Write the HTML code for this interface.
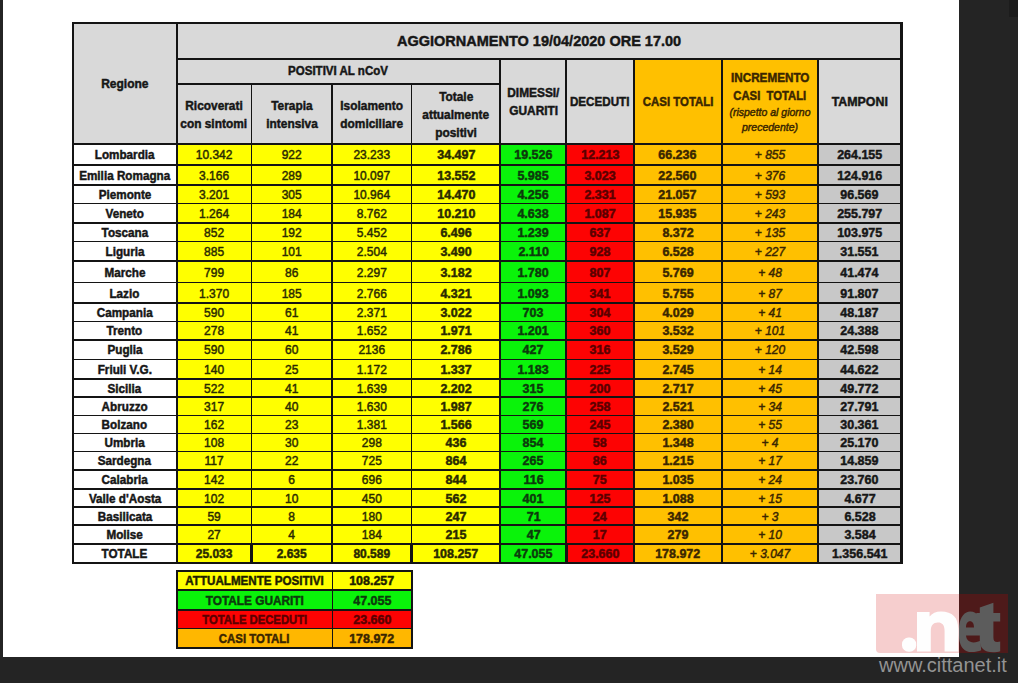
<!DOCTYPE html>
<html><head><meta charset="utf-8"><style>
html,body{margin:0;padding:0;}
body{width:1018px;height:683px;position:relative;overflow:hidden;background:#242424;font-family:"Liberation Sans",sans-serif;}
body div{position:absolute;}
.t{display:flex;align-items:center;justify-content:center;white-space:nowrap;}
.t span{display:inline-block;white-space:nowrap;transform-origin:center center;-webkit-text-stroke:0.45px currentColor;}
.wm{left:899px;top:585px;font-size:76px;font-weight:bold;letter-spacing:-6px;line-height:80px;white-space:nowrap;}
.www{left:879px;top:653px;font-size:20px;color:#939393;line-height:24px;white-space:nowrap;}
</style></head><body>
<div style="left:0.00px;top:0.00px;width:1018.00px;height:683.00px;background:#242424;"></div>
<div style="left:3.00px;top:0.00px;width:956.00px;height:657.00px;background:#ffffff;"></div>
<div style="left:1009.00px;top:0.00px;width:9.00px;height:17.00px;background:#1c1c1c;"></div>
<div style="left:72.80px;top:22.80px;width:828.50px;height:121.40px;background:#d9d9d9;"></div>
<div style="left:633.70px;top:59.00px;width:184.60px;height:85.20px;background:#ffc000;"></div>
<div style="left:72.80px;top:144.20px;width:104.00px;height:20.80px;background:#ffffff;"></div>
<div style="left:176.80px;top:144.20px;width:74.60px;height:20.80px;background:#ffff00;"></div>
<div style="left:251.40px;top:144.20px;width:80.60px;height:20.80px;background:#ffff00;"></div>
<div style="left:332.00px;top:144.20px;width:79.60px;height:20.80px;background:#ffff00;"></div>
<div style="left:411.60px;top:144.20px;width:88.60px;height:20.80px;background:#ffff00;"></div>
<div style="left:500.20px;top:144.20px;width:66.20px;height:20.80px;background:#0af30a;"></div>
<div style="left:566.40px;top:144.20px;width:67.30px;height:20.80px;background:#fd0303;"></div>
<div style="left:633.70px;top:144.20px;width:88.00px;height:20.80px;background:#ffc000;"></div>
<div style="left:721.70px;top:144.20px;width:96.60px;height:20.80px;background:#ffc000;"></div>
<div style="left:818.30px;top:144.20px;width:83.00px;height:20.80px;background:#c8c8c8;"></div>
<div style="left:72.80px;top:165.00px;width:104.00px;height:20.00px;background:#ffffff;"></div>
<div style="left:176.80px;top:165.00px;width:74.60px;height:20.00px;background:#ffff00;"></div>
<div style="left:251.40px;top:165.00px;width:80.60px;height:20.00px;background:#ffff00;"></div>
<div style="left:332.00px;top:165.00px;width:79.60px;height:20.00px;background:#ffff00;"></div>
<div style="left:411.60px;top:165.00px;width:88.60px;height:20.00px;background:#ffff00;"></div>
<div style="left:500.20px;top:165.00px;width:66.20px;height:20.00px;background:#0af30a;"></div>
<div style="left:566.40px;top:165.00px;width:67.30px;height:20.00px;background:#fd0303;"></div>
<div style="left:633.70px;top:165.00px;width:88.00px;height:20.00px;background:#ffc000;"></div>
<div style="left:721.70px;top:165.00px;width:96.60px;height:20.00px;background:#ffc000;"></div>
<div style="left:818.30px;top:165.00px;width:83.00px;height:20.00px;background:#c8c8c8;"></div>
<div style="left:72.80px;top:185.00px;width:104.00px;height:18.60px;background:#ffffff;"></div>
<div style="left:176.80px;top:185.00px;width:74.60px;height:18.60px;background:#ffff00;"></div>
<div style="left:251.40px;top:185.00px;width:80.60px;height:18.60px;background:#ffff00;"></div>
<div style="left:332.00px;top:185.00px;width:79.60px;height:18.60px;background:#ffff00;"></div>
<div style="left:411.60px;top:185.00px;width:88.60px;height:18.60px;background:#ffff00;"></div>
<div style="left:500.20px;top:185.00px;width:66.20px;height:18.60px;background:#0af30a;"></div>
<div style="left:566.40px;top:185.00px;width:67.30px;height:18.60px;background:#fd0303;"></div>
<div style="left:633.70px;top:185.00px;width:88.00px;height:18.60px;background:#ffc000;"></div>
<div style="left:721.70px;top:185.00px;width:96.60px;height:18.60px;background:#ffc000;"></div>
<div style="left:818.30px;top:185.00px;width:83.00px;height:18.60px;background:#c8c8c8;"></div>
<div style="left:72.80px;top:203.60px;width:104.00px;height:19.40px;background:#ffffff;"></div>
<div style="left:176.80px;top:203.60px;width:74.60px;height:19.40px;background:#ffff00;"></div>
<div style="left:251.40px;top:203.60px;width:80.60px;height:19.40px;background:#ffff00;"></div>
<div style="left:332.00px;top:203.60px;width:79.60px;height:19.40px;background:#ffff00;"></div>
<div style="left:411.60px;top:203.60px;width:88.60px;height:19.40px;background:#ffff00;"></div>
<div style="left:500.20px;top:203.60px;width:66.20px;height:19.40px;background:#0af30a;"></div>
<div style="left:566.40px;top:203.60px;width:67.30px;height:19.40px;background:#fd0303;"></div>
<div style="left:633.70px;top:203.60px;width:88.00px;height:19.40px;background:#ffc000;"></div>
<div style="left:721.70px;top:203.60px;width:96.60px;height:19.40px;background:#ffc000;"></div>
<div style="left:818.30px;top:203.60px;width:83.00px;height:19.40px;background:#c8c8c8;"></div>
<div style="left:72.80px;top:223.00px;width:104.00px;height:18.30px;background:#ffffff;"></div>
<div style="left:176.80px;top:223.00px;width:74.60px;height:18.30px;background:#ffff00;"></div>
<div style="left:251.40px;top:223.00px;width:80.60px;height:18.30px;background:#ffff00;"></div>
<div style="left:332.00px;top:223.00px;width:79.60px;height:18.30px;background:#ffff00;"></div>
<div style="left:411.60px;top:223.00px;width:88.60px;height:18.30px;background:#ffff00;"></div>
<div style="left:500.20px;top:223.00px;width:66.20px;height:18.30px;background:#0af30a;"></div>
<div style="left:566.40px;top:223.00px;width:67.30px;height:18.30px;background:#fd0303;"></div>
<div style="left:633.70px;top:223.00px;width:88.00px;height:18.30px;background:#ffc000;"></div>
<div style="left:721.70px;top:223.00px;width:96.60px;height:18.30px;background:#ffc000;"></div>
<div style="left:818.30px;top:223.00px;width:83.00px;height:18.30px;background:#c8c8c8;"></div>
<div style="left:72.80px;top:241.30px;width:104.00px;height:19.90px;background:#ffffff;"></div>
<div style="left:176.80px;top:241.30px;width:74.60px;height:19.90px;background:#ffff00;"></div>
<div style="left:251.40px;top:241.30px;width:80.60px;height:19.90px;background:#ffff00;"></div>
<div style="left:332.00px;top:241.30px;width:79.60px;height:19.90px;background:#ffff00;"></div>
<div style="left:411.60px;top:241.30px;width:88.60px;height:19.90px;background:#ffff00;"></div>
<div style="left:500.20px;top:241.30px;width:66.20px;height:19.90px;background:#0af30a;"></div>
<div style="left:566.40px;top:241.30px;width:67.30px;height:19.90px;background:#fd0303;"></div>
<div style="left:633.70px;top:241.30px;width:88.00px;height:19.90px;background:#ffc000;"></div>
<div style="left:721.70px;top:241.30px;width:96.60px;height:19.90px;background:#ffc000;"></div>
<div style="left:818.30px;top:241.30px;width:83.00px;height:19.90px;background:#c8c8c8;"></div>
<div style="left:72.80px;top:261.20px;width:104.00px;height:21.40px;background:#ffffff;"></div>
<div style="left:176.80px;top:261.20px;width:74.60px;height:21.40px;background:#ffff00;"></div>
<div style="left:251.40px;top:261.20px;width:80.60px;height:21.40px;background:#ffff00;"></div>
<div style="left:332.00px;top:261.20px;width:79.60px;height:21.40px;background:#ffff00;"></div>
<div style="left:411.60px;top:261.20px;width:88.60px;height:21.40px;background:#ffff00;"></div>
<div style="left:500.20px;top:261.20px;width:66.20px;height:21.40px;background:#0af30a;"></div>
<div style="left:566.40px;top:261.20px;width:67.30px;height:21.40px;background:#fd0303;"></div>
<div style="left:633.70px;top:261.20px;width:88.00px;height:21.40px;background:#ffc000;"></div>
<div style="left:721.70px;top:261.20px;width:96.60px;height:21.40px;background:#ffc000;"></div>
<div style="left:818.30px;top:261.20px;width:83.00px;height:21.40px;background:#c8c8c8;"></div>
<div style="left:72.80px;top:282.60px;width:104.00px;height:20.50px;background:#ffffff;"></div>
<div style="left:176.80px;top:282.60px;width:74.60px;height:20.50px;background:#ffff00;"></div>
<div style="left:251.40px;top:282.60px;width:80.60px;height:20.50px;background:#ffff00;"></div>
<div style="left:332.00px;top:282.60px;width:79.60px;height:20.50px;background:#ffff00;"></div>
<div style="left:411.60px;top:282.60px;width:88.60px;height:20.50px;background:#ffff00;"></div>
<div style="left:500.20px;top:282.60px;width:66.20px;height:20.50px;background:#0af30a;"></div>
<div style="left:566.40px;top:282.60px;width:67.30px;height:20.50px;background:#fd0303;"></div>
<div style="left:633.70px;top:282.60px;width:88.00px;height:20.50px;background:#ffc000;"></div>
<div style="left:721.70px;top:282.60px;width:96.60px;height:20.50px;background:#ffc000;"></div>
<div style="left:818.30px;top:282.60px;width:83.00px;height:20.50px;background:#c8c8c8;"></div>
<div style="left:72.80px;top:303.10px;width:104.00px;height:18.40px;background:#ffffff;"></div>
<div style="left:176.80px;top:303.10px;width:74.60px;height:18.40px;background:#ffff00;"></div>
<div style="left:251.40px;top:303.10px;width:80.60px;height:18.40px;background:#ffff00;"></div>
<div style="left:332.00px;top:303.10px;width:79.60px;height:18.40px;background:#ffff00;"></div>
<div style="left:411.60px;top:303.10px;width:88.60px;height:18.40px;background:#ffff00;"></div>
<div style="left:500.20px;top:303.10px;width:66.20px;height:18.40px;background:#0af30a;"></div>
<div style="left:566.40px;top:303.10px;width:67.30px;height:18.40px;background:#fd0303;"></div>
<div style="left:633.70px;top:303.10px;width:88.00px;height:18.40px;background:#ffc000;"></div>
<div style="left:721.70px;top:303.10px;width:96.60px;height:18.40px;background:#ffc000;"></div>
<div style="left:818.30px;top:303.10px;width:83.00px;height:18.40px;background:#c8c8c8;"></div>
<div style="left:72.80px;top:321.50px;width:104.00px;height:18.30px;background:#ffffff;"></div>
<div style="left:176.80px;top:321.50px;width:74.60px;height:18.30px;background:#ffff00;"></div>
<div style="left:251.40px;top:321.50px;width:80.60px;height:18.30px;background:#ffff00;"></div>
<div style="left:332.00px;top:321.50px;width:79.60px;height:18.30px;background:#ffff00;"></div>
<div style="left:411.60px;top:321.50px;width:88.60px;height:18.30px;background:#ffff00;"></div>
<div style="left:500.20px;top:321.50px;width:66.20px;height:18.30px;background:#0af30a;"></div>
<div style="left:566.40px;top:321.50px;width:67.30px;height:18.30px;background:#fd0303;"></div>
<div style="left:633.70px;top:321.50px;width:88.00px;height:18.30px;background:#ffc000;"></div>
<div style="left:721.70px;top:321.50px;width:96.60px;height:18.30px;background:#ffc000;"></div>
<div style="left:818.30px;top:321.50px;width:83.00px;height:18.30px;background:#c8c8c8;"></div>
<div style="left:72.80px;top:339.80px;width:104.00px;height:19.90px;background:#ffffff;"></div>
<div style="left:176.80px;top:339.80px;width:74.60px;height:19.90px;background:#ffff00;"></div>
<div style="left:251.40px;top:339.80px;width:80.60px;height:19.90px;background:#ffff00;"></div>
<div style="left:332.00px;top:339.80px;width:79.60px;height:19.90px;background:#ffff00;"></div>
<div style="left:411.60px;top:339.80px;width:88.60px;height:19.90px;background:#ffff00;"></div>
<div style="left:500.20px;top:339.80px;width:66.20px;height:19.90px;background:#0af30a;"></div>
<div style="left:566.40px;top:339.80px;width:67.30px;height:19.90px;background:#fd0303;"></div>
<div style="left:633.70px;top:339.80px;width:88.00px;height:19.90px;background:#ffc000;"></div>
<div style="left:721.70px;top:339.80px;width:96.60px;height:19.90px;background:#ffc000;"></div>
<div style="left:818.30px;top:339.80px;width:83.00px;height:19.90px;background:#c8c8c8;"></div>
<div style="left:72.80px;top:359.70px;width:104.00px;height:19.10px;background:#ffffff;"></div>
<div style="left:176.80px;top:359.70px;width:74.60px;height:19.10px;background:#ffff00;"></div>
<div style="left:251.40px;top:359.70px;width:80.60px;height:19.10px;background:#ffff00;"></div>
<div style="left:332.00px;top:359.70px;width:79.60px;height:19.10px;background:#ffff00;"></div>
<div style="left:411.60px;top:359.70px;width:88.60px;height:19.10px;background:#ffff00;"></div>
<div style="left:500.20px;top:359.70px;width:66.20px;height:19.10px;background:#0af30a;"></div>
<div style="left:566.40px;top:359.70px;width:67.30px;height:19.10px;background:#fd0303;"></div>
<div style="left:633.70px;top:359.70px;width:88.00px;height:19.10px;background:#ffc000;"></div>
<div style="left:721.70px;top:359.70px;width:96.60px;height:19.10px;background:#ffc000;"></div>
<div style="left:818.30px;top:359.70px;width:83.00px;height:19.10px;background:#c8c8c8;"></div>
<div style="left:72.80px;top:378.80px;width:104.00px;height:18.30px;background:#ffffff;"></div>
<div style="left:176.80px;top:378.80px;width:74.60px;height:18.30px;background:#ffff00;"></div>
<div style="left:251.40px;top:378.80px;width:80.60px;height:18.30px;background:#ffff00;"></div>
<div style="left:332.00px;top:378.80px;width:79.60px;height:18.30px;background:#ffff00;"></div>
<div style="left:411.60px;top:378.80px;width:88.60px;height:18.30px;background:#ffff00;"></div>
<div style="left:500.20px;top:378.80px;width:66.20px;height:18.30px;background:#0af30a;"></div>
<div style="left:566.40px;top:378.80px;width:67.30px;height:18.30px;background:#fd0303;"></div>
<div style="left:633.70px;top:378.80px;width:88.00px;height:18.30px;background:#ffc000;"></div>
<div style="left:721.70px;top:378.80px;width:96.60px;height:18.30px;background:#ffc000;"></div>
<div style="left:818.30px;top:378.80px;width:83.00px;height:18.30px;background:#c8c8c8;"></div>
<div style="left:72.80px;top:397.10px;width:104.00px;height:18.40px;background:#ffffff;"></div>
<div style="left:176.80px;top:397.10px;width:74.60px;height:18.40px;background:#ffff00;"></div>
<div style="left:251.40px;top:397.10px;width:80.60px;height:18.40px;background:#ffff00;"></div>
<div style="left:332.00px;top:397.10px;width:79.60px;height:18.40px;background:#ffff00;"></div>
<div style="left:411.60px;top:397.10px;width:88.60px;height:18.40px;background:#ffff00;"></div>
<div style="left:500.20px;top:397.10px;width:66.20px;height:18.40px;background:#0af30a;"></div>
<div style="left:566.40px;top:397.10px;width:67.30px;height:18.40px;background:#fd0303;"></div>
<div style="left:633.70px;top:397.10px;width:88.00px;height:18.40px;background:#ffc000;"></div>
<div style="left:721.70px;top:397.10px;width:96.60px;height:18.40px;background:#ffc000;"></div>
<div style="left:818.30px;top:397.10px;width:83.00px;height:18.40px;background:#c8c8c8;"></div>
<div style="left:72.80px;top:415.50px;width:104.00px;height:18.00px;background:#ffffff;"></div>
<div style="left:176.80px;top:415.50px;width:74.60px;height:18.00px;background:#ffff00;"></div>
<div style="left:251.40px;top:415.50px;width:80.60px;height:18.00px;background:#ffff00;"></div>
<div style="left:332.00px;top:415.50px;width:79.60px;height:18.00px;background:#ffff00;"></div>
<div style="left:411.60px;top:415.50px;width:88.60px;height:18.00px;background:#ffff00;"></div>
<div style="left:500.20px;top:415.50px;width:66.20px;height:18.00px;background:#0af30a;"></div>
<div style="left:566.40px;top:415.50px;width:67.30px;height:18.00px;background:#fd0303;"></div>
<div style="left:633.70px;top:415.50px;width:88.00px;height:18.00px;background:#ffc000;"></div>
<div style="left:721.70px;top:415.50px;width:96.60px;height:18.00px;background:#ffc000;"></div>
<div style="left:818.30px;top:415.50px;width:83.00px;height:18.00px;background:#c8c8c8;"></div>
<div style="left:72.80px;top:433.50px;width:104.00px;height:17.90px;background:#ffffff;"></div>
<div style="left:176.80px;top:433.50px;width:74.60px;height:17.90px;background:#ffff00;"></div>
<div style="left:251.40px;top:433.50px;width:80.60px;height:17.90px;background:#ffff00;"></div>
<div style="left:332.00px;top:433.50px;width:79.60px;height:17.90px;background:#ffff00;"></div>
<div style="left:411.60px;top:433.50px;width:88.60px;height:17.90px;background:#ffff00;"></div>
<div style="left:500.20px;top:433.50px;width:66.20px;height:17.90px;background:#0af30a;"></div>
<div style="left:566.40px;top:433.50px;width:67.30px;height:17.90px;background:#fd0303;"></div>
<div style="left:633.70px;top:433.50px;width:88.00px;height:17.90px;background:#ffc000;"></div>
<div style="left:721.70px;top:433.50px;width:96.60px;height:17.90px;background:#ffc000;"></div>
<div style="left:818.30px;top:433.50px;width:83.00px;height:17.90px;background:#c8c8c8;"></div>
<div style="left:72.80px;top:451.40px;width:104.00px;height:18.70px;background:#ffffff;"></div>
<div style="left:176.80px;top:451.40px;width:74.60px;height:18.70px;background:#ffff00;"></div>
<div style="left:251.40px;top:451.40px;width:80.60px;height:18.70px;background:#ffff00;"></div>
<div style="left:332.00px;top:451.40px;width:79.60px;height:18.70px;background:#ffff00;"></div>
<div style="left:411.60px;top:451.40px;width:88.60px;height:18.70px;background:#ffff00;"></div>
<div style="left:500.20px;top:451.40px;width:66.20px;height:18.70px;background:#0af30a;"></div>
<div style="left:566.40px;top:451.40px;width:67.30px;height:18.70px;background:#fd0303;"></div>
<div style="left:633.70px;top:451.40px;width:88.00px;height:18.70px;background:#ffc000;"></div>
<div style="left:721.70px;top:451.40px;width:96.60px;height:18.70px;background:#ffc000;"></div>
<div style="left:818.30px;top:451.40px;width:83.00px;height:18.70px;background:#c8c8c8;"></div>
<div style="left:72.80px;top:470.10px;width:104.00px;height:18.70px;background:#ffffff;"></div>
<div style="left:176.80px;top:470.10px;width:74.60px;height:18.70px;background:#ffff00;"></div>
<div style="left:251.40px;top:470.10px;width:80.60px;height:18.70px;background:#ffff00;"></div>
<div style="left:332.00px;top:470.10px;width:79.60px;height:18.70px;background:#ffff00;"></div>
<div style="left:411.60px;top:470.10px;width:88.60px;height:18.70px;background:#ffff00;"></div>
<div style="left:500.20px;top:470.10px;width:66.20px;height:18.70px;background:#0af30a;"></div>
<div style="left:566.40px;top:470.10px;width:67.30px;height:18.70px;background:#fd0303;"></div>
<div style="left:633.70px;top:470.10px;width:88.00px;height:18.70px;background:#ffc000;"></div>
<div style="left:721.70px;top:470.10px;width:96.60px;height:18.70px;background:#ffc000;"></div>
<div style="left:818.30px;top:470.10px;width:83.00px;height:18.70px;background:#c8c8c8;"></div>
<div style="left:72.80px;top:488.80px;width:104.00px;height:18.20px;background:#ffffff;"></div>
<div style="left:176.80px;top:488.80px;width:74.60px;height:18.20px;background:#ffff00;"></div>
<div style="left:251.40px;top:488.80px;width:80.60px;height:18.20px;background:#ffff00;"></div>
<div style="left:332.00px;top:488.80px;width:79.60px;height:18.20px;background:#ffff00;"></div>
<div style="left:411.60px;top:488.80px;width:88.60px;height:18.20px;background:#ffff00;"></div>
<div style="left:500.20px;top:488.80px;width:66.20px;height:18.20px;background:#0af30a;"></div>
<div style="left:566.40px;top:488.80px;width:67.30px;height:18.20px;background:#fd0303;"></div>
<div style="left:633.70px;top:488.80px;width:88.00px;height:18.20px;background:#ffc000;"></div>
<div style="left:721.70px;top:488.80px;width:96.60px;height:18.20px;background:#ffc000;"></div>
<div style="left:818.30px;top:488.80px;width:83.00px;height:18.20px;background:#c8c8c8;"></div>
<div style="left:72.80px;top:507.00px;width:104.00px;height:18.10px;background:#ffffff;"></div>
<div style="left:176.80px;top:507.00px;width:74.60px;height:18.10px;background:#ffff00;"></div>
<div style="left:251.40px;top:507.00px;width:80.60px;height:18.10px;background:#ffff00;"></div>
<div style="left:332.00px;top:507.00px;width:79.60px;height:18.10px;background:#ffff00;"></div>
<div style="left:411.60px;top:507.00px;width:88.60px;height:18.10px;background:#ffff00;"></div>
<div style="left:500.20px;top:507.00px;width:66.20px;height:18.10px;background:#0af30a;"></div>
<div style="left:566.40px;top:507.00px;width:67.30px;height:18.10px;background:#fd0303;"></div>
<div style="left:633.70px;top:507.00px;width:88.00px;height:18.10px;background:#ffc000;"></div>
<div style="left:721.70px;top:507.00px;width:96.60px;height:18.10px;background:#ffc000;"></div>
<div style="left:818.30px;top:507.00px;width:83.00px;height:18.10px;background:#c8c8c8;"></div>
<div style="left:72.80px;top:525.10px;width:104.00px;height:19.10px;background:#ffffff;"></div>
<div style="left:176.80px;top:525.10px;width:74.60px;height:19.10px;background:#ffff00;"></div>
<div style="left:251.40px;top:525.10px;width:80.60px;height:19.10px;background:#ffff00;"></div>
<div style="left:332.00px;top:525.10px;width:79.60px;height:19.10px;background:#ffff00;"></div>
<div style="left:411.60px;top:525.10px;width:88.60px;height:19.10px;background:#ffff00;"></div>
<div style="left:500.20px;top:525.10px;width:66.20px;height:19.10px;background:#0af30a;"></div>
<div style="left:566.40px;top:525.10px;width:67.30px;height:19.10px;background:#fd0303;"></div>
<div style="left:633.70px;top:525.10px;width:88.00px;height:19.10px;background:#ffc000;"></div>
<div style="left:721.70px;top:525.10px;width:96.60px;height:19.10px;background:#ffc000;"></div>
<div style="left:818.30px;top:525.10px;width:83.00px;height:19.10px;background:#c8c8c8;"></div>
<div style="left:72.80px;top:544.20px;width:104.00px;height:18.60px;background:#ffffff;"></div>
<div style="left:176.80px;top:544.20px;width:74.60px;height:18.60px;background:#ffff00;"></div>
<div style="left:251.40px;top:544.20px;width:80.60px;height:18.60px;background:#ffff00;"></div>
<div style="left:332.00px;top:544.20px;width:79.60px;height:18.60px;background:#ffff00;"></div>
<div style="left:411.60px;top:544.20px;width:88.60px;height:18.60px;background:#ffff00;"></div>
<div style="left:500.20px;top:544.20px;width:66.20px;height:18.60px;background:#0af30a;"></div>
<div style="left:566.40px;top:544.20px;width:67.30px;height:18.60px;background:#fd0303;"></div>
<div style="left:633.70px;top:544.20px;width:88.00px;height:18.60px;background:#ffc000;"></div>
<div style="left:721.70px;top:544.20px;width:96.60px;height:18.60px;background:#ffc000;"></div>
<div style="left:818.30px;top:544.20px;width:83.00px;height:18.60px;background:#c8c8c8;"></div>
<div class="t" style="left:72.80px;top:23.40px;width:104.00px;height:121.40px;"><span style="font-size:12px;font-weight:bold;font-style:normal;color:#161616;transform:scaleX(1.0);">Regione</span></div>
<div class="t" style="left:176.80px;top:23.40px;width:724.50px;height:36.20px;"><span style="font-size:14.5px;font-weight:bold;font-style:normal;color:#161616;transform:scaleX(1.0);">AGGIORNAMENTO 19/04/2020 ORE 17.00</span></div>
<div class="t" style="left:176.80px;top:59.00px;width:323.40px;height:24.70px;"><span style="font-size:12px;font-weight:bold;font-style:normal;color:#161616;transform:scaleX(0.96);">POSITIVI AL nCoV</span></div>
<div class="t" style="left:176.80px;top:96.20px;width:74.60px;height:20.00px;"><span style="font-size:12px;font-weight:bold;font-style:normal;color:#161616;transform:scaleX(0.99);">Ricoverati</span></div>
<div class="t" style="left:176.80px;top:114.20px;width:74.60px;height:20.00px;"><span style="font-size:12px;font-weight:bold;font-style:normal;color:#161616;transform:scaleX(0.99);">con sintomi</span></div>
<div class="t" style="left:251.40px;top:96.20px;width:80.60px;height:20.00px;"><span style="font-size:12px;font-weight:bold;font-style:normal;color:#161616;transform:scaleX(0.99);">Terapia</span></div>
<div class="t" style="left:251.40px;top:114.20px;width:80.60px;height:20.00px;"><span style="font-size:12px;font-weight:bold;font-style:normal;color:#161616;transform:scaleX(0.99);">intensiva</span></div>
<div class="t" style="left:332.00px;top:96.20px;width:79.60px;height:20.00px;"><span style="font-size:12px;font-weight:bold;font-style:normal;color:#161616;transform:scaleX(0.99);">Isolamento</span></div>
<div class="t" style="left:332.00px;top:114.20px;width:79.60px;height:20.00px;"><span style="font-size:12px;font-weight:bold;font-style:normal;color:#161616;transform:scaleX(0.99);">domiciliare</span></div>
<div class="t" style="left:411.60px;top:87.20px;width:88.60px;height:20.00px;"><span style="font-size:12px;font-weight:bold;font-style:normal;color:#161616;transform:scaleX(0.99);">Totale</span></div>
<div class="t" style="left:411.60px;top:105.20px;width:88.60px;height:20.00px;"><span style="font-size:12px;font-weight:bold;font-style:normal;color:#161616;transform:scaleX(0.99);">attualmente</span></div>
<div class="t" style="left:411.60px;top:123.20px;width:88.60px;height:20.00px;"><span style="font-size:12px;font-weight:bold;font-style:normal;color:#161616;transform:scaleX(0.99);">positivi</span></div>
<div class="t" style="left:500.20px;top:83.00px;width:66.20px;height:20.00px;"><span style="font-size:12px;font-weight:bold;font-style:normal;color:#161616;transform:scaleX(0.99);">DIMESSI/</span></div>
<div class="t" style="left:500.20px;top:101.00px;width:66.20px;height:20.00px;"><span style="font-size:12px;font-weight:bold;font-style:normal;color:#161616;transform:scaleX(0.99);">GUARITI</span></div>
<div class="t" style="left:566.40px;top:59.00px;width:67.30px;height:85.20px;"><span style="font-size:12px;font-weight:bold;font-style:normal;color:#161616;transform:scaleX(0.97);">DECEDUTI</span></div>
<div class="t" style="left:633.70px;top:59.00px;width:88.00px;height:85.20px;"><span style="font-size:12px;font-weight:bold;font-style:normal;color:#3a2600;transform:scaleX(0.95);">CASI TOTALI</span></div>
<div class="t" style="left:721.70px;top:67.70px;width:96.60px;height:20.00px;"><span style="font-size:12px;font-weight:bold;font-style:normal;color:#3a2600;transform:scaleX(0.975);">INCREMENTO</span></div>
<div class="t" style="left:721.70px;top:86.00px;width:96.60px;height:20.00px;"><span style="font-size:12px;font-weight:bold;font-style:normal;color:#3a2600;transform:scaleX(0.94);">CASI&nbsp; TOTALI</span></div>
<div class="t" style="left:721.70px;top:102.00px;width:96.60px;height:20.00px;"><span style="font-size:10.5px;font-weight:normal;font-style:italic;color:#3a2600;transform:scaleX(1.0);">(rispetto al giorno</span></div>
<div class="t" style="left:721.70px;top:117.00px;width:96.60px;height:20.00px;"><span style="font-size:10.5px;font-weight:normal;font-style:italic;color:#3a2600;transform:scaleX(1.0);">precedente)</span></div>
<div class="t" style="left:818.30px;top:59.00px;width:83.00px;height:85.20px;"><span style="font-size:12.4px;font-weight:bold;font-style:normal;color:#161616;transform:scaleX(1.0);">TAMPONI</span></div>
<div class="t" style="left:72.80px;top:144.90px;width:104.00px;height:20.80px;"><span style="font-size:12px;font-weight:bold;font-style:normal;color:#161616;transform:scaleX(0.975);">Lombardia</span></div>
<div class="t" style="left:176.80px;top:144.90px;width:74.60px;height:20.80px;"><span style="font-size:12px;font-weight:normal;font-style:normal;color:#2a2a00;transform:scaleX(1.0);">10.342</span></div>
<div class="t" style="left:251.40px;top:144.90px;width:80.60px;height:20.80px;"><span style="font-size:12px;font-weight:normal;font-style:normal;color:#2a2a00;transform:scaleX(1.0);">922</span></div>
<div class="t" style="left:332.00px;top:144.90px;width:79.60px;height:20.80px;"><span style="font-size:12px;font-weight:normal;font-style:normal;color:#2a2a00;transform:scaleX(1.0);">23.233</span></div>
<div class="t" style="left:411.60px;top:144.90px;width:88.60px;height:20.80px;"><span style="font-size:12px;font-weight:bold;font-style:normal;color:#2a2a00;transform:scaleX(1.04);">34.497</span></div>
<div class="t" style="left:500.20px;top:144.90px;width:66.20px;height:20.80px;"><span style="font-size:12px;font-weight:bold;font-style:normal;color:#0c3a0c;transform:scaleX(1.04);">19.526</span></div>
<div class="t" style="left:566.40px;top:144.90px;width:67.30px;height:20.80px;"><span style="font-size:12px;font-weight:bold;font-style:normal;color:#5a0000;transform:scaleX(1.04);">12.213</span></div>
<div class="t" style="left:633.70px;top:144.90px;width:88.00px;height:20.80px;"><span style="font-size:12px;font-weight:bold;font-style:normal;color:#3a2600;transform:scaleX(1.04);">66.236</span></div>
<div class="t" style="left:721.70px;top:144.90px;width:96.60px;height:20.80px;"><span style="font-size:12px;font-weight:normal;font-style:italic;color:#3a2600;transform:scaleX(1.0);">+ 855</span></div>
<div class="t" style="left:818.30px;top:144.90px;width:83.00px;height:20.80px;"><span style="font-size:12px;font-weight:bold;font-style:normal;color:#161616;transform:scaleX(1.04);">264.155</span></div>
<div class="t" style="left:72.80px;top:165.70px;width:104.00px;height:20.00px;"><span style="font-size:12px;font-weight:bold;font-style:normal;color:#161616;transform:scaleX(0.975);">Emilia Romagna</span></div>
<div class="t" style="left:176.80px;top:165.70px;width:74.60px;height:20.00px;"><span style="font-size:12px;font-weight:normal;font-style:normal;color:#2a2a00;transform:scaleX(1.0);">3.166</span></div>
<div class="t" style="left:251.40px;top:165.70px;width:80.60px;height:20.00px;"><span style="font-size:12px;font-weight:normal;font-style:normal;color:#2a2a00;transform:scaleX(1.0);">289</span></div>
<div class="t" style="left:332.00px;top:165.70px;width:79.60px;height:20.00px;"><span style="font-size:12px;font-weight:normal;font-style:normal;color:#2a2a00;transform:scaleX(1.0);">10.097</span></div>
<div class="t" style="left:411.60px;top:165.70px;width:88.60px;height:20.00px;"><span style="font-size:12px;font-weight:bold;font-style:normal;color:#2a2a00;transform:scaleX(1.04);">13.552</span></div>
<div class="t" style="left:500.20px;top:165.70px;width:66.20px;height:20.00px;"><span style="font-size:12px;font-weight:bold;font-style:normal;color:#0c3a0c;transform:scaleX(1.04);">5.985</span></div>
<div class="t" style="left:566.40px;top:165.70px;width:67.30px;height:20.00px;"><span style="font-size:12px;font-weight:bold;font-style:normal;color:#5a0000;transform:scaleX(1.04);">3.023</span></div>
<div class="t" style="left:633.70px;top:165.70px;width:88.00px;height:20.00px;"><span style="font-size:12px;font-weight:bold;font-style:normal;color:#3a2600;transform:scaleX(1.04);">22.560</span></div>
<div class="t" style="left:721.70px;top:165.70px;width:96.60px;height:20.00px;"><span style="font-size:12px;font-weight:normal;font-style:italic;color:#3a2600;transform:scaleX(1.0);">+ 376</span></div>
<div class="t" style="left:818.30px;top:165.70px;width:83.00px;height:20.00px;"><span style="font-size:12px;font-weight:bold;font-style:normal;color:#161616;transform:scaleX(1.04);">124.916</span></div>
<div class="t" style="left:72.80px;top:185.70px;width:104.00px;height:18.60px;"><span style="font-size:12px;font-weight:bold;font-style:normal;color:#161616;transform:scaleX(0.975);">Piemonte</span></div>
<div class="t" style="left:176.80px;top:185.70px;width:74.60px;height:18.60px;"><span style="font-size:12px;font-weight:normal;font-style:normal;color:#2a2a00;transform:scaleX(1.0);">3.201</span></div>
<div class="t" style="left:251.40px;top:185.70px;width:80.60px;height:18.60px;"><span style="font-size:12px;font-weight:normal;font-style:normal;color:#2a2a00;transform:scaleX(1.0);">305</span></div>
<div class="t" style="left:332.00px;top:185.70px;width:79.60px;height:18.60px;"><span style="font-size:12px;font-weight:normal;font-style:normal;color:#2a2a00;transform:scaleX(1.0);">10.964</span></div>
<div class="t" style="left:411.60px;top:185.70px;width:88.60px;height:18.60px;"><span style="font-size:12px;font-weight:bold;font-style:normal;color:#2a2a00;transform:scaleX(1.04);">14.470</span></div>
<div class="t" style="left:500.20px;top:185.70px;width:66.20px;height:18.60px;"><span style="font-size:12px;font-weight:bold;font-style:normal;color:#0c3a0c;transform:scaleX(1.04);">4.256</span></div>
<div class="t" style="left:566.40px;top:185.70px;width:67.30px;height:18.60px;"><span style="font-size:12px;font-weight:bold;font-style:normal;color:#5a0000;transform:scaleX(1.04);">2.331</span></div>
<div class="t" style="left:633.70px;top:185.70px;width:88.00px;height:18.60px;"><span style="font-size:12px;font-weight:bold;font-style:normal;color:#3a2600;transform:scaleX(1.04);">21.057</span></div>
<div class="t" style="left:721.70px;top:185.70px;width:96.60px;height:18.60px;"><span style="font-size:12px;font-weight:normal;font-style:italic;color:#3a2600;transform:scaleX(1.0);">+ 593</span></div>
<div class="t" style="left:818.30px;top:185.70px;width:83.00px;height:18.60px;"><span style="font-size:12px;font-weight:bold;font-style:normal;color:#161616;transform:scaleX(1.04);">96.569</span></div>
<div class="t" style="left:72.80px;top:204.30px;width:104.00px;height:19.40px;"><span style="font-size:12px;font-weight:bold;font-style:normal;color:#161616;transform:scaleX(0.975);">Veneto</span></div>
<div class="t" style="left:176.80px;top:204.30px;width:74.60px;height:19.40px;"><span style="font-size:12px;font-weight:normal;font-style:normal;color:#2a2a00;transform:scaleX(1.0);">1.264</span></div>
<div class="t" style="left:251.40px;top:204.30px;width:80.60px;height:19.40px;"><span style="font-size:12px;font-weight:normal;font-style:normal;color:#2a2a00;transform:scaleX(1.0);">184</span></div>
<div class="t" style="left:332.00px;top:204.30px;width:79.60px;height:19.40px;"><span style="font-size:12px;font-weight:normal;font-style:normal;color:#2a2a00;transform:scaleX(1.0);">8.762</span></div>
<div class="t" style="left:411.60px;top:204.30px;width:88.60px;height:19.40px;"><span style="font-size:12px;font-weight:bold;font-style:normal;color:#2a2a00;transform:scaleX(1.04);">10.210</span></div>
<div class="t" style="left:500.20px;top:204.30px;width:66.20px;height:19.40px;"><span style="font-size:12px;font-weight:bold;font-style:normal;color:#0c3a0c;transform:scaleX(1.04);">4.638</span></div>
<div class="t" style="left:566.40px;top:204.30px;width:67.30px;height:19.40px;"><span style="font-size:12px;font-weight:bold;font-style:normal;color:#5a0000;transform:scaleX(1.04);">1.087</span></div>
<div class="t" style="left:633.70px;top:204.30px;width:88.00px;height:19.40px;"><span style="font-size:12px;font-weight:bold;font-style:normal;color:#3a2600;transform:scaleX(1.04);">15.935</span></div>
<div class="t" style="left:721.70px;top:204.30px;width:96.60px;height:19.40px;"><span style="font-size:12px;font-weight:normal;font-style:italic;color:#3a2600;transform:scaleX(1.0);">+ 243</span></div>
<div class="t" style="left:818.30px;top:204.30px;width:83.00px;height:19.40px;"><span style="font-size:12px;font-weight:bold;font-style:normal;color:#161616;transform:scaleX(1.04);">255.797</span></div>
<div class="t" style="left:72.80px;top:223.70px;width:104.00px;height:18.30px;"><span style="font-size:12px;font-weight:bold;font-style:normal;color:#161616;transform:scaleX(0.975);">Toscana</span></div>
<div class="t" style="left:176.80px;top:223.70px;width:74.60px;height:18.30px;"><span style="font-size:12px;font-weight:normal;font-style:normal;color:#2a2a00;transform:scaleX(1.0);">852</span></div>
<div class="t" style="left:251.40px;top:223.70px;width:80.60px;height:18.30px;"><span style="font-size:12px;font-weight:normal;font-style:normal;color:#2a2a00;transform:scaleX(1.0);">192</span></div>
<div class="t" style="left:332.00px;top:223.70px;width:79.60px;height:18.30px;"><span style="font-size:12px;font-weight:normal;font-style:normal;color:#2a2a00;transform:scaleX(1.0);">5.452</span></div>
<div class="t" style="left:411.60px;top:223.70px;width:88.60px;height:18.30px;"><span style="font-size:12px;font-weight:bold;font-style:normal;color:#2a2a00;transform:scaleX(1.04);">6.496</span></div>
<div class="t" style="left:500.20px;top:223.70px;width:66.20px;height:18.30px;"><span style="font-size:12px;font-weight:bold;font-style:normal;color:#0c3a0c;transform:scaleX(1.04);">1.239</span></div>
<div class="t" style="left:566.40px;top:223.70px;width:67.30px;height:18.30px;"><span style="font-size:12px;font-weight:bold;font-style:normal;color:#5a0000;transform:scaleX(1.04);">637</span></div>
<div class="t" style="left:633.70px;top:223.70px;width:88.00px;height:18.30px;"><span style="font-size:12px;font-weight:bold;font-style:normal;color:#3a2600;transform:scaleX(1.04);">8.372</span></div>
<div class="t" style="left:721.70px;top:223.70px;width:96.60px;height:18.30px;"><span style="font-size:12px;font-weight:normal;font-style:italic;color:#3a2600;transform:scaleX(1.0);">+ 135</span></div>
<div class="t" style="left:818.30px;top:223.70px;width:83.00px;height:18.30px;"><span style="font-size:12px;font-weight:bold;font-style:normal;color:#161616;transform:scaleX(1.04);">103.975</span></div>
<div class="t" style="left:72.80px;top:242.00px;width:104.00px;height:19.90px;"><span style="font-size:12px;font-weight:bold;font-style:normal;color:#161616;transform:scaleX(0.975);">Liguria</span></div>
<div class="t" style="left:176.80px;top:242.00px;width:74.60px;height:19.90px;"><span style="font-size:12px;font-weight:normal;font-style:normal;color:#2a2a00;transform:scaleX(1.0);">885</span></div>
<div class="t" style="left:251.40px;top:242.00px;width:80.60px;height:19.90px;"><span style="font-size:12px;font-weight:normal;font-style:normal;color:#2a2a00;transform:scaleX(1.0);">101</span></div>
<div class="t" style="left:332.00px;top:242.00px;width:79.60px;height:19.90px;"><span style="font-size:12px;font-weight:normal;font-style:normal;color:#2a2a00;transform:scaleX(1.0);">2.504</span></div>
<div class="t" style="left:411.60px;top:242.00px;width:88.60px;height:19.90px;"><span style="font-size:12px;font-weight:bold;font-style:normal;color:#2a2a00;transform:scaleX(1.04);">3.490</span></div>
<div class="t" style="left:500.20px;top:242.00px;width:66.20px;height:19.90px;"><span style="font-size:12px;font-weight:bold;font-style:normal;color:#0c3a0c;transform:scaleX(1.04);">2.110</span></div>
<div class="t" style="left:566.40px;top:242.00px;width:67.30px;height:19.90px;"><span style="font-size:12px;font-weight:bold;font-style:normal;color:#5a0000;transform:scaleX(1.04);">928</span></div>
<div class="t" style="left:633.70px;top:242.00px;width:88.00px;height:19.90px;"><span style="font-size:12px;font-weight:bold;font-style:normal;color:#3a2600;transform:scaleX(1.04);">6.528</span></div>
<div class="t" style="left:721.70px;top:242.00px;width:96.60px;height:19.90px;"><span style="font-size:12px;font-weight:normal;font-style:italic;color:#3a2600;transform:scaleX(1.0);">+ 227</span></div>
<div class="t" style="left:818.30px;top:242.00px;width:83.00px;height:19.90px;"><span style="font-size:12px;font-weight:bold;font-style:normal;color:#161616;transform:scaleX(1.04);">31.551</span></div>
<div class="t" style="left:72.80px;top:261.90px;width:104.00px;height:21.40px;"><span style="font-size:12px;font-weight:bold;font-style:normal;color:#161616;transform:scaleX(0.975);">Marche</span></div>
<div class="t" style="left:176.80px;top:261.90px;width:74.60px;height:21.40px;"><span style="font-size:12px;font-weight:normal;font-style:normal;color:#2a2a00;transform:scaleX(1.0);">799</span></div>
<div class="t" style="left:251.40px;top:261.90px;width:80.60px;height:21.40px;"><span style="font-size:12px;font-weight:normal;font-style:normal;color:#2a2a00;transform:scaleX(1.0);">86</span></div>
<div class="t" style="left:332.00px;top:261.90px;width:79.60px;height:21.40px;"><span style="font-size:12px;font-weight:normal;font-style:normal;color:#2a2a00;transform:scaleX(1.0);">2.297</span></div>
<div class="t" style="left:411.60px;top:261.90px;width:88.60px;height:21.40px;"><span style="font-size:12px;font-weight:bold;font-style:normal;color:#2a2a00;transform:scaleX(1.04);">3.182</span></div>
<div class="t" style="left:500.20px;top:261.90px;width:66.20px;height:21.40px;"><span style="font-size:12px;font-weight:bold;font-style:normal;color:#0c3a0c;transform:scaleX(1.04);">1.780</span></div>
<div class="t" style="left:566.40px;top:261.90px;width:67.30px;height:21.40px;"><span style="font-size:12px;font-weight:bold;font-style:normal;color:#5a0000;transform:scaleX(1.04);">807</span></div>
<div class="t" style="left:633.70px;top:261.90px;width:88.00px;height:21.40px;"><span style="font-size:12px;font-weight:bold;font-style:normal;color:#3a2600;transform:scaleX(1.04);">5.769</span></div>
<div class="t" style="left:721.70px;top:261.90px;width:96.60px;height:21.40px;"><span style="font-size:12px;font-weight:normal;font-style:italic;color:#3a2600;transform:scaleX(1.0);">+ 48</span></div>
<div class="t" style="left:818.30px;top:261.90px;width:83.00px;height:21.40px;"><span style="font-size:12px;font-weight:bold;font-style:normal;color:#161616;transform:scaleX(1.04);">41.474</span></div>
<div class="t" style="left:72.80px;top:283.30px;width:104.00px;height:20.50px;"><span style="font-size:12px;font-weight:bold;font-style:normal;color:#161616;transform:scaleX(0.975);">Lazio</span></div>
<div class="t" style="left:176.80px;top:283.30px;width:74.60px;height:20.50px;"><span style="font-size:12px;font-weight:normal;font-style:normal;color:#2a2a00;transform:scaleX(1.0);">1.370</span></div>
<div class="t" style="left:251.40px;top:283.30px;width:80.60px;height:20.50px;"><span style="font-size:12px;font-weight:normal;font-style:normal;color:#2a2a00;transform:scaleX(1.0);">185</span></div>
<div class="t" style="left:332.00px;top:283.30px;width:79.60px;height:20.50px;"><span style="font-size:12px;font-weight:normal;font-style:normal;color:#2a2a00;transform:scaleX(1.0);">2.766</span></div>
<div class="t" style="left:411.60px;top:283.30px;width:88.60px;height:20.50px;"><span style="font-size:12px;font-weight:bold;font-style:normal;color:#2a2a00;transform:scaleX(1.04);">4.321</span></div>
<div class="t" style="left:500.20px;top:283.30px;width:66.20px;height:20.50px;"><span style="font-size:12px;font-weight:bold;font-style:normal;color:#0c3a0c;transform:scaleX(1.04);">1.093</span></div>
<div class="t" style="left:566.40px;top:283.30px;width:67.30px;height:20.50px;"><span style="font-size:12px;font-weight:bold;font-style:normal;color:#5a0000;transform:scaleX(1.04);">341</span></div>
<div class="t" style="left:633.70px;top:283.30px;width:88.00px;height:20.50px;"><span style="font-size:12px;font-weight:bold;font-style:normal;color:#3a2600;transform:scaleX(1.04);">5.755</span></div>
<div class="t" style="left:721.70px;top:283.30px;width:96.60px;height:20.50px;"><span style="font-size:12px;font-weight:normal;font-style:italic;color:#3a2600;transform:scaleX(1.0);">+ 87</span></div>
<div class="t" style="left:818.30px;top:283.30px;width:83.00px;height:20.50px;"><span style="font-size:12px;font-weight:bold;font-style:normal;color:#161616;transform:scaleX(1.04);">91.807</span></div>
<div class="t" style="left:72.80px;top:303.80px;width:104.00px;height:18.40px;"><span style="font-size:12px;font-weight:bold;font-style:normal;color:#161616;transform:scaleX(0.975);">Campania</span></div>
<div class="t" style="left:176.80px;top:303.80px;width:74.60px;height:18.40px;"><span style="font-size:12px;font-weight:normal;font-style:normal;color:#2a2a00;transform:scaleX(1.0);">590</span></div>
<div class="t" style="left:251.40px;top:303.80px;width:80.60px;height:18.40px;"><span style="font-size:12px;font-weight:normal;font-style:normal;color:#2a2a00;transform:scaleX(1.0);">61</span></div>
<div class="t" style="left:332.00px;top:303.80px;width:79.60px;height:18.40px;"><span style="font-size:12px;font-weight:normal;font-style:normal;color:#2a2a00;transform:scaleX(1.0);">2.371</span></div>
<div class="t" style="left:411.60px;top:303.80px;width:88.60px;height:18.40px;"><span style="font-size:12px;font-weight:bold;font-style:normal;color:#2a2a00;transform:scaleX(1.04);">3.022</span></div>
<div class="t" style="left:500.20px;top:303.80px;width:66.20px;height:18.40px;"><span style="font-size:12px;font-weight:bold;font-style:normal;color:#0c3a0c;transform:scaleX(1.04);">703</span></div>
<div class="t" style="left:566.40px;top:303.80px;width:67.30px;height:18.40px;"><span style="font-size:12px;font-weight:bold;font-style:normal;color:#5a0000;transform:scaleX(1.04);">304</span></div>
<div class="t" style="left:633.70px;top:303.80px;width:88.00px;height:18.40px;"><span style="font-size:12px;font-weight:bold;font-style:normal;color:#3a2600;transform:scaleX(1.04);">4.029</span></div>
<div class="t" style="left:721.70px;top:303.80px;width:96.60px;height:18.40px;"><span style="font-size:12px;font-weight:normal;font-style:italic;color:#3a2600;transform:scaleX(1.0);">+ 41</span></div>
<div class="t" style="left:818.30px;top:303.80px;width:83.00px;height:18.40px;"><span style="font-size:12px;font-weight:bold;font-style:normal;color:#161616;transform:scaleX(1.04);">48.187</span></div>
<div class="t" style="left:72.80px;top:322.20px;width:104.00px;height:18.30px;"><span style="font-size:12px;font-weight:bold;font-style:normal;color:#161616;transform:scaleX(0.975);">Trento</span></div>
<div class="t" style="left:176.80px;top:322.20px;width:74.60px;height:18.30px;"><span style="font-size:12px;font-weight:normal;font-style:normal;color:#2a2a00;transform:scaleX(1.0);">278</span></div>
<div class="t" style="left:251.40px;top:322.20px;width:80.60px;height:18.30px;"><span style="font-size:12px;font-weight:normal;font-style:normal;color:#2a2a00;transform:scaleX(1.0);">41</span></div>
<div class="t" style="left:332.00px;top:322.20px;width:79.60px;height:18.30px;"><span style="font-size:12px;font-weight:normal;font-style:normal;color:#2a2a00;transform:scaleX(1.0);">1.652</span></div>
<div class="t" style="left:411.60px;top:322.20px;width:88.60px;height:18.30px;"><span style="font-size:12px;font-weight:bold;font-style:normal;color:#2a2a00;transform:scaleX(1.04);">1.971</span></div>
<div class="t" style="left:500.20px;top:322.20px;width:66.20px;height:18.30px;"><span style="font-size:12px;font-weight:bold;font-style:normal;color:#0c3a0c;transform:scaleX(1.04);">1.201</span></div>
<div class="t" style="left:566.40px;top:322.20px;width:67.30px;height:18.30px;"><span style="font-size:12px;font-weight:bold;font-style:normal;color:#5a0000;transform:scaleX(1.04);">360</span></div>
<div class="t" style="left:633.70px;top:322.20px;width:88.00px;height:18.30px;"><span style="font-size:12px;font-weight:bold;font-style:normal;color:#3a2600;transform:scaleX(1.04);">3.532</span></div>
<div class="t" style="left:721.70px;top:322.20px;width:96.60px;height:18.30px;"><span style="font-size:12px;font-weight:normal;font-style:italic;color:#3a2600;transform:scaleX(1.0);">+ 101</span></div>
<div class="t" style="left:818.30px;top:322.20px;width:83.00px;height:18.30px;"><span style="font-size:12px;font-weight:bold;font-style:normal;color:#161616;transform:scaleX(1.04);">24.388</span></div>
<div class="t" style="left:72.80px;top:340.50px;width:104.00px;height:19.90px;"><span style="font-size:12px;font-weight:bold;font-style:normal;color:#161616;transform:scaleX(0.975);">Puglia</span></div>
<div class="t" style="left:176.80px;top:340.50px;width:74.60px;height:19.90px;"><span style="font-size:12px;font-weight:normal;font-style:normal;color:#2a2a00;transform:scaleX(1.0);">590</span></div>
<div class="t" style="left:251.40px;top:340.50px;width:80.60px;height:19.90px;"><span style="font-size:12px;font-weight:normal;font-style:normal;color:#2a2a00;transform:scaleX(1.0);">60</span></div>
<div class="t" style="left:332.00px;top:340.50px;width:79.60px;height:19.90px;"><span style="font-size:12px;font-weight:normal;font-style:normal;color:#2a2a00;transform:scaleX(1.0);">2136</span></div>
<div class="t" style="left:411.60px;top:340.50px;width:88.60px;height:19.90px;"><span style="font-size:12px;font-weight:bold;font-style:normal;color:#2a2a00;transform:scaleX(1.04);">2.786</span></div>
<div class="t" style="left:500.20px;top:340.50px;width:66.20px;height:19.90px;"><span style="font-size:12px;font-weight:bold;font-style:normal;color:#0c3a0c;transform:scaleX(1.04);">427</span></div>
<div class="t" style="left:566.40px;top:340.50px;width:67.30px;height:19.90px;"><span style="font-size:12px;font-weight:bold;font-style:normal;color:#5a0000;transform:scaleX(1.04);">316</span></div>
<div class="t" style="left:633.70px;top:340.50px;width:88.00px;height:19.90px;"><span style="font-size:12px;font-weight:bold;font-style:normal;color:#3a2600;transform:scaleX(1.04);">3.529</span></div>
<div class="t" style="left:721.70px;top:340.50px;width:96.60px;height:19.90px;"><span style="font-size:12px;font-weight:normal;font-style:italic;color:#3a2600;transform:scaleX(1.0);">+ 120</span></div>
<div class="t" style="left:818.30px;top:340.50px;width:83.00px;height:19.90px;"><span style="font-size:12px;font-weight:bold;font-style:normal;color:#161616;transform:scaleX(1.04);">42.598</span></div>
<div class="t" style="left:72.80px;top:360.40px;width:104.00px;height:19.10px;"><span style="font-size:12px;font-weight:bold;font-style:normal;color:#161616;transform:scaleX(0.975);">Friuli V.G.</span></div>
<div class="t" style="left:176.80px;top:360.40px;width:74.60px;height:19.10px;"><span style="font-size:12px;font-weight:normal;font-style:normal;color:#2a2a00;transform:scaleX(1.0);">140</span></div>
<div class="t" style="left:251.40px;top:360.40px;width:80.60px;height:19.10px;"><span style="font-size:12px;font-weight:normal;font-style:normal;color:#2a2a00;transform:scaleX(1.0);">25</span></div>
<div class="t" style="left:332.00px;top:360.40px;width:79.60px;height:19.10px;"><span style="font-size:12px;font-weight:normal;font-style:normal;color:#2a2a00;transform:scaleX(1.0);">1.172</span></div>
<div class="t" style="left:411.60px;top:360.40px;width:88.60px;height:19.10px;"><span style="font-size:12px;font-weight:bold;font-style:normal;color:#2a2a00;transform:scaleX(1.04);">1.337</span></div>
<div class="t" style="left:500.20px;top:360.40px;width:66.20px;height:19.10px;"><span style="font-size:12px;font-weight:bold;font-style:normal;color:#0c3a0c;transform:scaleX(1.04);">1.183</span></div>
<div class="t" style="left:566.40px;top:360.40px;width:67.30px;height:19.10px;"><span style="font-size:12px;font-weight:bold;font-style:normal;color:#5a0000;transform:scaleX(1.04);">225</span></div>
<div class="t" style="left:633.70px;top:360.40px;width:88.00px;height:19.10px;"><span style="font-size:12px;font-weight:bold;font-style:normal;color:#3a2600;transform:scaleX(1.04);">2.745</span></div>
<div class="t" style="left:721.70px;top:360.40px;width:96.60px;height:19.10px;"><span style="font-size:12px;font-weight:normal;font-style:italic;color:#3a2600;transform:scaleX(1.0);">+ 14</span></div>
<div class="t" style="left:818.30px;top:360.40px;width:83.00px;height:19.10px;"><span style="font-size:12px;font-weight:bold;font-style:normal;color:#161616;transform:scaleX(1.04);">44.622</span></div>
<div class="t" style="left:72.80px;top:379.50px;width:104.00px;height:18.30px;"><span style="font-size:12px;font-weight:bold;font-style:normal;color:#161616;transform:scaleX(0.975);">Sicilia</span></div>
<div class="t" style="left:176.80px;top:379.50px;width:74.60px;height:18.30px;"><span style="font-size:12px;font-weight:normal;font-style:normal;color:#2a2a00;transform:scaleX(1.0);">522</span></div>
<div class="t" style="left:251.40px;top:379.50px;width:80.60px;height:18.30px;"><span style="font-size:12px;font-weight:normal;font-style:normal;color:#2a2a00;transform:scaleX(1.0);">41</span></div>
<div class="t" style="left:332.00px;top:379.50px;width:79.60px;height:18.30px;"><span style="font-size:12px;font-weight:normal;font-style:normal;color:#2a2a00;transform:scaleX(1.0);">1.639</span></div>
<div class="t" style="left:411.60px;top:379.50px;width:88.60px;height:18.30px;"><span style="font-size:12px;font-weight:bold;font-style:normal;color:#2a2a00;transform:scaleX(1.04);">2.202</span></div>
<div class="t" style="left:500.20px;top:379.50px;width:66.20px;height:18.30px;"><span style="font-size:12px;font-weight:bold;font-style:normal;color:#0c3a0c;transform:scaleX(1.04);">315</span></div>
<div class="t" style="left:566.40px;top:379.50px;width:67.30px;height:18.30px;"><span style="font-size:12px;font-weight:bold;font-style:normal;color:#5a0000;transform:scaleX(1.04);">200</span></div>
<div class="t" style="left:633.70px;top:379.50px;width:88.00px;height:18.30px;"><span style="font-size:12px;font-weight:bold;font-style:normal;color:#3a2600;transform:scaleX(1.04);">2.717</span></div>
<div class="t" style="left:721.70px;top:379.50px;width:96.60px;height:18.30px;"><span style="font-size:12px;font-weight:normal;font-style:italic;color:#3a2600;transform:scaleX(1.0);">+ 45</span></div>
<div class="t" style="left:818.30px;top:379.50px;width:83.00px;height:18.30px;"><span style="font-size:12px;font-weight:bold;font-style:normal;color:#161616;transform:scaleX(1.04);">49.772</span></div>
<div class="t" style="left:72.80px;top:397.80px;width:104.00px;height:18.40px;"><span style="font-size:12px;font-weight:bold;font-style:normal;color:#161616;transform:scaleX(0.975);">Abruzzo</span></div>
<div class="t" style="left:176.80px;top:397.80px;width:74.60px;height:18.40px;"><span style="font-size:12px;font-weight:normal;font-style:normal;color:#2a2a00;transform:scaleX(1.0);">317</span></div>
<div class="t" style="left:251.40px;top:397.80px;width:80.60px;height:18.40px;"><span style="font-size:12px;font-weight:normal;font-style:normal;color:#2a2a00;transform:scaleX(1.0);">40</span></div>
<div class="t" style="left:332.00px;top:397.80px;width:79.60px;height:18.40px;"><span style="font-size:12px;font-weight:normal;font-style:normal;color:#2a2a00;transform:scaleX(1.0);">1.630</span></div>
<div class="t" style="left:411.60px;top:397.80px;width:88.60px;height:18.40px;"><span style="font-size:12px;font-weight:bold;font-style:normal;color:#2a2a00;transform:scaleX(1.04);">1.987</span></div>
<div class="t" style="left:500.20px;top:397.80px;width:66.20px;height:18.40px;"><span style="font-size:12px;font-weight:bold;font-style:normal;color:#0c3a0c;transform:scaleX(1.04);">276</span></div>
<div class="t" style="left:566.40px;top:397.80px;width:67.30px;height:18.40px;"><span style="font-size:12px;font-weight:bold;font-style:normal;color:#5a0000;transform:scaleX(1.04);">258</span></div>
<div class="t" style="left:633.70px;top:397.80px;width:88.00px;height:18.40px;"><span style="font-size:12px;font-weight:bold;font-style:normal;color:#3a2600;transform:scaleX(1.04);">2.521</span></div>
<div class="t" style="left:721.70px;top:397.80px;width:96.60px;height:18.40px;"><span style="font-size:12px;font-weight:normal;font-style:italic;color:#3a2600;transform:scaleX(1.0);">+ 34</span></div>
<div class="t" style="left:818.30px;top:397.80px;width:83.00px;height:18.40px;"><span style="font-size:12px;font-weight:bold;font-style:normal;color:#161616;transform:scaleX(1.04);">27.791</span></div>
<div class="t" style="left:72.80px;top:416.20px;width:104.00px;height:18.00px;"><span style="font-size:12px;font-weight:bold;font-style:normal;color:#161616;transform:scaleX(0.975);">Bolzano</span></div>
<div class="t" style="left:176.80px;top:416.20px;width:74.60px;height:18.00px;"><span style="font-size:12px;font-weight:normal;font-style:normal;color:#2a2a00;transform:scaleX(1.0);">162</span></div>
<div class="t" style="left:251.40px;top:416.20px;width:80.60px;height:18.00px;"><span style="font-size:12px;font-weight:normal;font-style:normal;color:#2a2a00;transform:scaleX(1.0);">23</span></div>
<div class="t" style="left:332.00px;top:416.20px;width:79.60px;height:18.00px;"><span style="font-size:12px;font-weight:normal;font-style:normal;color:#2a2a00;transform:scaleX(1.0);">1.381</span></div>
<div class="t" style="left:411.60px;top:416.20px;width:88.60px;height:18.00px;"><span style="font-size:12px;font-weight:bold;font-style:normal;color:#2a2a00;transform:scaleX(1.04);">1.566</span></div>
<div class="t" style="left:500.20px;top:416.20px;width:66.20px;height:18.00px;"><span style="font-size:12px;font-weight:bold;font-style:normal;color:#0c3a0c;transform:scaleX(1.04);">569</span></div>
<div class="t" style="left:566.40px;top:416.20px;width:67.30px;height:18.00px;"><span style="font-size:12px;font-weight:bold;font-style:normal;color:#5a0000;transform:scaleX(1.04);">245</span></div>
<div class="t" style="left:633.70px;top:416.20px;width:88.00px;height:18.00px;"><span style="font-size:12px;font-weight:bold;font-style:normal;color:#3a2600;transform:scaleX(1.04);">2.380</span></div>
<div class="t" style="left:721.70px;top:416.20px;width:96.60px;height:18.00px;"><span style="font-size:12px;font-weight:normal;font-style:italic;color:#3a2600;transform:scaleX(1.0);">+ 55</span></div>
<div class="t" style="left:818.30px;top:416.20px;width:83.00px;height:18.00px;"><span style="font-size:12px;font-weight:bold;font-style:normal;color:#161616;transform:scaleX(1.04);">30.361</span></div>
<div class="t" style="left:72.80px;top:434.20px;width:104.00px;height:17.90px;"><span style="font-size:12px;font-weight:bold;font-style:normal;color:#161616;transform:scaleX(0.975);">Umbria</span></div>
<div class="t" style="left:176.80px;top:434.20px;width:74.60px;height:17.90px;"><span style="font-size:12px;font-weight:normal;font-style:normal;color:#2a2a00;transform:scaleX(1.0);">108</span></div>
<div class="t" style="left:251.40px;top:434.20px;width:80.60px;height:17.90px;"><span style="font-size:12px;font-weight:normal;font-style:normal;color:#2a2a00;transform:scaleX(1.0);">30</span></div>
<div class="t" style="left:332.00px;top:434.20px;width:79.60px;height:17.90px;"><span style="font-size:12px;font-weight:normal;font-style:normal;color:#2a2a00;transform:scaleX(1.0);">298</span></div>
<div class="t" style="left:411.60px;top:434.20px;width:88.60px;height:17.90px;"><span style="font-size:12px;font-weight:bold;font-style:normal;color:#2a2a00;transform:scaleX(1.04);">436</span></div>
<div class="t" style="left:500.20px;top:434.20px;width:66.20px;height:17.90px;"><span style="font-size:12px;font-weight:bold;font-style:normal;color:#0c3a0c;transform:scaleX(1.04);">854</span></div>
<div class="t" style="left:566.40px;top:434.20px;width:67.30px;height:17.90px;"><span style="font-size:12px;font-weight:bold;font-style:normal;color:#5a0000;transform:scaleX(1.04);">58</span></div>
<div class="t" style="left:633.70px;top:434.20px;width:88.00px;height:17.90px;"><span style="font-size:12px;font-weight:bold;font-style:normal;color:#3a2600;transform:scaleX(1.04);">1.348</span></div>
<div class="t" style="left:721.70px;top:434.20px;width:96.60px;height:17.90px;"><span style="font-size:12px;font-weight:normal;font-style:italic;color:#3a2600;transform:scaleX(1.0);">+ 4</span></div>
<div class="t" style="left:818.30px;top:434.20px;width:83.00px;height:17.90px;"><span style="font-size:12px;font-weight:bold;font-style:normal;color:#161616;transform:scaleX(1.04);">25.170</span></div>
<div class="t" style="left:72.80px;top:452.10px;width:104.00px;height:18.70px;"><span style="font-size:12px;font-weight:bold;font-style:normal;color:#161616;transform:scaleX(0.975);">Sardegna</span></div>
<div class="t" style="left:176.80px;top:452.10px;width:74.60px;height:18.70px;"><span style="font-size:12px;font-weight:normal;font-style:normal;color:#2a2a00;transform:scaleX(1.0);">117</span></div>
<div class="t" style="left:251.40px;top:452.10px;width:80.60px;height:18.70px;"><span style="font-size:12px;font-weight:normal;font-style:normal;color:#2a2a00;transform:scaleX(1.0);">22</span></div>
<div class="t" style="left:332.00px;top:452.10px;width:79.60px;height:18.70px;"><span style="font-size:12px;font-weight:normal;font-style:normal;color:#2a2a00;transform:scaleX(1.0);">725</span></div>
<div class="t" style="left:411.60px;top:452.10px;width:88.60px;height:18.70px;"><span style="font-size:12px;font-weight:bold;font-style:normal;color:#2a2a00;transform:scaleX(1.04);">864</span></div>
<div class="t" style="left:500.20px;top:452.10px;width:66.20px;height:18.70px;"><span style="font-size:12px;font-weight:bold;font-style:normal;color:#0c3a0c;transform:scaleX(1.04);">265</span></div>
<div class="t" style="left:566.40px;top:452.10px;width:67.30px;height:18.70px;"><span style="font-size:12px;font-weight:bold;font-style:normal;color:#5a0000;transform:scaleX(1.04);">86</span></div>
<div class="t" style="left:633.70px;top:452.10px;width:88.00px;height:18.70px;"><span style="font-size:12px;font-weight:bold;font-style:normal;color:#3a2600;transform:scaleX(1.04);">1.215</span></div>
<div class="t" style="left:721.70px;top:452.10px;width:96.60px;height:18.70px;"><span style="font-size:12px;font-weight:normal;font-style:italic;color:#3a2600;transform:scaleX(1.0);">+ 17</span></div>
<div class="t" style="left:818.30px;top:452.10px;width:83.00px;height:18.70px;"><span style="font-size:12px;font-weight:bold;font-style:normal;color:#161616;transform:scaleX(1.04);">14.859</span></div>
<div class="t" style="left:72.80px;top:470.80px;width:104.00px;height:18.70px;"><span style="font-size:12px;font-weight:bold;font-style:normal;color:#161616;transform:scaleX(0.975);">Calabria</span></div>
<div class="t" style="left:176.80px;top:470.80px;width:74.60px;height:18.70px;"><span style="font-size:12px;font-weight:normal;font-style:normal;color:#2a2a00;transform:scaleX(1.0);">142</span></div>
<div class="t" style="left:251.40px;top:470.80px;width:80.60px;height:18.70px;"><span style="font-size:12px;font-weight:normal;font-style:normal;color:#2a2a00;transform:scaleX(1.0);">6</span></div>
<div class="t" style="left:332.00px;top:470.80px;width:79.60px;height:18.70px;"><span style="font-size:12px;font-weight:normal;font-style:normal;color:#2a2a00;transform:scaleX(1.0);">696</span></div>
<div class="t" style="left:411.60px;top:470.80px;width:88.60px;height:18.70px;"><span style="font-size:12px;font-weight:bold;font-style:normal;color:#2a2a00;transform:scaleX(1.04);">844</span></div>
<div class="t" style="left:500.20px;top:470.80px;width:66.20px;height:18.70px;"><span style="font-size:12px;font-weight:bold;font-style:normal;color:#0c3a0c;transform:scaleX(1.04);">116</span></div>
<div class="t" style="left:566.40px;top:470.80px;width:67.30px;height:18.70px;"><span style="font-size:12px;font-weight:bold;font-style:normal;color:#5a0000;transform:scaleX(1.04);">75</span></div>
<div class="t" style="left:633.70px;top:470.80px;width:88.00px;height:18.70px;"><span style="font-size:12px;font-weight:bold;font-style:normal;color:#3a2600;transform:scaleX(1.04);">1.035</span></div>
<div class="t" style="left:721.70px;top:470.80px;width:96.60px;height:18.70px;"><span style="font-size:12px;font-weight:normal;font-style:italic;color:#3a2600;transform:scaleX(1.0);">+ 24</span></div>
<div class="t" style="left:818.30px;top:470.80px;width:83.00px;height:18.70px;"><span style="font-size:12px;font-weight:bold;font-style:normal;color:#161616;transform:scaleX(1.04);">23.760</span></div>
<div class="t" style="left:72.80px;top:489.50px;width:104.00px;height:18.20px;"><span style="font-size:12px;font-weight:bold;font-style:normal;color:#161616;transform:scaleX(0.975);">Valle d'Aosta</span></div>
<div class="t" style="left:176.80px;top:489.50px;width:74.60px;height:18.20px;"><span style="font-size:12px;font-weight:normal;font-style:normal;color:#2a2a00;transform:scaleX(1.0);">102</span></div>
<div class="t" style="left:251.40px;top:489.50px;width:80.60px;height:18.20px;"><span style="font-size:12px;font-weight:normal;font-style:normal;color:#2a2a00;transform:scaleX(1.0);">10</span></div>
<div class="t" style="left:332.00px;top:489.50px;width:79.60px;height:18.20px;"><span style="font-size:12px;font-weight:normal;font-style:normal;color:#2a2a00;transform:scaleX(1.0);">450</span></div>
<div class="t" style="left:411.60px;top:489.50px;width:88.60px;height:18.20px;"><span style="font-size:12px;font-weight:bold;font-style:normal;color:#2a2a00;transform:scaleX(1.04);">562</span></div>
<div class="t" style="left:500.20px;top:489.50px;width:66.20px;height:18.20px;"><span style="font-size:12px;font-weight:bold;font-style:normal;color:#0c3a0c;transform:scaleX(1.04);">401</span></div>
<div class="t" style="left:566.40px;top:489.50px;width:67.30px;height:18.20px;"><span style="font-size:12px;font-weight:bold;font-style:normal;color:#5a0000;transform:scaleX(1.04);">125</span></div>
<div class="t" style="left:633.70px;top:489.50px;width:88.00px;height:18.20px;"><span style="font-size:12px;font-weight:bold;font-style:normal;color:#3a2600;transform:scaleX(1.04);">1.088</span></div>
<div class="t" style="left:721.70px;top:489.50px;width:96.60px;height:18.20px;"><span style="font-size:12px;font-weight:normal;font-style:italic;color:#3a2600;transform:scaleX(1.0);">+ 15</span></div>
<div class="t" style="left:818.30px;top:489.50px;width:83.00px;height:18.20px;"><span style="font-size:12px;font-weight:bold;font-style:normal;color:#161616;transform:scaleX(1.04);">4.677</span></div>
<div class="t" style="left:72.80px;top:507.70px;width:104.00px;height:18.10px;"><span style="font-size:12px;font-weight:bold;font-style:normal;color:#161616;transform:scaleX(0.975);">Basilicata</span></div>
<div class="t" style="left:176.80px;top:507.70px;width:74.60px;height:18.10px;"><span style="font-size:12px;font-weight:normal;font-style:normal;color:#2a2a00;transform:scaleX(1.0);">59</span></div>
<div class="t" style="left:251.40px;top:507.70px;width:80.60px;height:18.10px;"><span style="font-size:12px;font-weight:normal;font-style:normal;color:#2a2a00;transform:scaleX(1.0);">8</span></div>
<div class="t" style="left:332.00px;top:507.70px;width:79.60px;height:18.10px;"><span style="font-size:12px;font-weight:normal;font-style:normal;color:#2a2a00;transform:scaleX(1.0);">180</span></div>
<div class="t" style="left:411.60px;top:507.70px;width:88.60px;height:18.10px;"><span style="font-size:12px;font-weight:bold;font-style:normal;color:#2a2a00;transform:scaleX(1.04);">247</span></div>
<div class="t" style="left:500.20px;top:507.70px;width:66.20px;height:18.10px;"><span style="font-size:12px;font-weight:bold;font-style:normal;color:#0c3a0c;transform:scaleX(1.04);">71</span></div>
<div class="t" style="left:566.40px;top:507.70px;width:67.30px;height:18.10px;"><span style="font-size:12px;font-weight:bold;font-style:normal;color:#5a0000;transform:scaleX(1.04);">24</span></div>
<div class="t" style="left:633.70px;top:507.70px;width:88.00px;height:18.10px;"><span style="font-size:12px;font-weight:bold;font-style:normal;color:#3a2600;transform:scaleX(1.04);">342</span></div>
<div class="t" style="left:721.70px;top:507.70px;width:96.60px;height:18.10px;"><span style="font-size:12px;font-weight:normal;font-style:italic;color:#3a2600;transform:scaleX(1.0);">+ 3</span></div>
<div class="t" style="left:818.30px;top:507.70px;width:83.00px;height:18.10px;"><span style="font-size:12px;font-weight:bold;font-style:normal;color:#161616;transform:scaleX(1.04);">6.528</span></div>
<div class="t" style="left:72.80px;top:525.80px;width:104.00px;height:19.10px;"><span style="font-size:12px;font-weight:bold;font-style:normal;color:#161616;transform:scaleX(0.975);">Molise</span></div>
<div class="t" style="left:176.80px;top:525.80px;width:74.60px;height:19.10px;"><span style="font-size:12px;font-weight:normal;font-style:normal;color:#2a2a00;transform:scaleX(1.0);">27</span></div>
<div class="t" style="left:251.40px;top:525.80px;width:80.60px;height:19.10px;"><span style="font-size:12px;font-weight:normal;font-style:normal;color:#2a2a00;transform:scaleX(1.0);">4</span></div>
<div class="t" style="left:332.00px;top:525.80px;width:79.60px;height:19.10px;"><span style="font-size:12px;font-weight:normal;font-style:normal;color:#2a2a00;transform:scaleX(1.0);">184</span></div>
<div class="t" style="left:411.60px;top:525.80px;width:88.60px;height:19.10px;"><span style="font-size:12px;font-weight:bold;font-style:normal;color:#2a2a00;transform:scaleX(1.04);">215</span></div>
<div class="t" style="left:500.20px;top:525.80px;width:66.20px;height:19.10px;"><span style="font-size:12px;font-weight:bold;font-style:normal;color:#0c3a0c;transform:scaleX(1.04);">47</span></div>
<div class="t" style="left:566.40px;top:525.80px;width:67.30px;height:19.10px;"><span style="font-size:12px;font-weight:bold;font-style:normal;color:#5a0000;transform:scaleX(1.04);">17</span></div>
<div class="t" style="left:633.70px;top:525.80px;width:88.00px;height:19.10px;"><span style="font-size:12px;font-weight:bold;font-style:normal;color:#3a2600;transform:scaleX(1.04);">279</span></div>
<div class="t" style="left:721.70px;top:525.80px;width:96.60px;height:19.10px;"><span style="font-size:12px;font-weight:normal;font-style:italic;color:#3a2600;transform:scaleX(1.0);">+ 10</span></div>
<div class="t" style="left:818.30px;top:525.80px;width:83.00px;height:19.10px;"><span style="font-size:12px;font-weight:bold;font-style:normal;color:#161616;transform:scaleX(1.04);">3.584</span></div>
<div class="t" style="left:72.80px;top:544.90px;width:104.00px;height:18.60px;"><span style="font-size:12px;font-weight:bold;font-style:normal;color:#161616;transform:scaleX(0.975);">TOTALE</span></div>
<div class="t" style="left:176.80px;top:544.90px;width:74.60px;height:18.60px;"><span style="font-size:12px;font-weight:bold;font-style:normal;color:#2a2a00;transform:scaleX(1.0);">25.033</span></div>
<div class="t" style="left:251.40px;top:544.90px;width:80.60px;height:18.60px;"><span style="font-size:12px;font-weight:bold;font-style:normal;color:#2a2a00;transform:scaleX(1.0);">2.635</span></div>
<div class="t" style="left:332.00px;top:544.90px;width:79.60px;height:18.60px;"><span style="font-size:12px;font-weight:bold;font-style:normal;color:#2a2a00;transform:scaleX(1.0);">80.589</span></div>
<div class="t" style="left:411.60px;top:544.90px;width:88.60px;height:18.60px;"><span style="font-size:12px;font-weight:bold;font-style:normal;color:#2a2a00;transform:scaleX(1.04);">108.257</span></div>
<div class="t" style="left:500.20px;top:544.90px;width:66.20px;height:18.60px;"><span style="font-size:12px;font-weight:bold;font-style:normal;color:#0c3a0c;transform:scaleX(1.04);">47.055</span></div>
<div class="t" style="left:566.40px;top:544.90px;width:67.30px;height:18.60px;"><span style="font-size:12px;font-weight:bold;font-style:normal;color:#5a0000;transform:scaleX(1.04);">23.660</span></div>
<div class="t" style="left:633.70px;top:544.90px;width:88.00px;height:18.60px;"><span style="font-size:12px;font-weight:bold;font-style:normal;color:#3a2600;transform:scaleX(1.04);">178.972</span></div>
<div class="t" style="left:721.70px;top:544.90px;width:96.60px;height:18.60px;"><span style="font-size:12px;font-weight:normal;font-style:italic;color:#3a2600;transform:scaleX(1.0);">+ 3.047</span></div>
<div class="t" style="left:818.30px;top:544.90px;width:83.00px;height:18.60px;"><span style="font-size:12px;font-weight:bold;font-style:normal;color:#161616;transform:scaleX(1.04);">1.356.541</span></div>
<div style="left:71.50px;top:21.50px;width:831.10px;height:2.60px;background:#141414;"></div>
<div style="left:176.80px;top:58.00px;width:724.50px;height:2.00px;background:#141414;"></div>
<div style="left:176.80px;top:82.70px;width:323.40px;height:2.00px;background:#141414;"></div>
<div style="left:72.80px;top:143.10px;width:828.50px;height:2.20px;background:#141414;"></div>
<div style="left:72.80px;top:164.20px;width:828.50px;height:1.60px;background:#141414;"></div>
<div style="left:72.80px;top:184.20px;width:828.50px;height:1.60px;background:#141414;"></div>
<div style="left:72.80px;top:202.80px;width:828.50px;height:1.60px;background:#141414;"></div>
<div style="left:72.80px;top:222.20px;width:828.50px;height:1.60px;background:#141414;"></div>
<div style="left:72.80px;top:240.50px;width:828.50px;height:1.60px;background:#141414;"></div>
<div style="left:72.80px;top:260.40px;width:828.50px;height:1.60px;background:#141414;"></div>
<div style="left:72.80px;top:281.80px;width:828.50px;height:1.60px;background:#141414;"></div>
<div style="left:72.80px;top:302.30px;width:828.50px;height:1.60px;background:#141414;"></div>
<div style="left:72.80px;top:320.70px;width:828.50px;height:1.60px;background:#141414;"></div>
<div style="left:72.80px;top:339.00px;width:828.50px;height:1.60px;background:#141414;"></div>
<div style="left:72.80px;top:358.90px;width:828.50px;height:1.60px;background:#141414;"></div>
<div style="left:72.80px;top:378.00px;width:828.50px;height:1.60px;background:#141414;"></div>
<div style="left:72.80px;top:396.30px;width:828.50px;height:1.60px;background:#141414;"></div>
<div style="left:72.80px;top:414.70px;width:828.50px;height:1.60px;background:#141414;"></div>
<div style="left:72.80px;top:432.70px;width:828.50px;height:1.60px;background:#141414;"></div>
<div style="left:72.80px;top:450.60px;width:828.50px;height:1.60px;background:#141414;"></div>
<div style="left:72.80px;top:469.30px;width:828.50px;height:1.60px;background:#141414;"></div>
<div style="left:72.80px;top:488.00px;width:828.50px;height:1.60px;background:#141414;"></div>
<div style="left:72.80px;top:506.20px;width:828.50px;height:1.60px;background:#141414;"></div>
<div style="left:72.80px;top:524.30px;width:828.50px;height:1.60px;background:#141414;"></div>
<div style="left:72.80px;top:543.00px;width:828.50px;height:2.40px;background:#141414;"></div>
<div style="left:71.50px;top:561.50px;width:831.10px;height:2.60px;background:#141414;"></div>
<div style="left:71.50px;top:22.80px;width:2.60px;height:540.00px;background:#141414;"></div>
<div style="left:900.00px;top:22.80px;width:2.60px;height:540.00px;background:#141414;"></div>
<div style="left:175.50px;top:22.80px;width:2.60px;height:540.00px;background:#141414;"></div>
<div style="left:250.65px;top:83.70px;width:1.50px;height:460.50px;background:#141414;"></div>
<div style="left:250.20px;top:544.20px;width:2.40px;height:18.60px;background:#141414;"></div>
<div style="left:331.25px;top:83.70px;width:1.50px;height:460.50px;background:#141414;"></div>
<div style="left:330.80px;top:544.20px;width:2.40px;height:18.60px;background:#141414;"></div>
<div style="left:410.85px;top:83.70px;width:1.50px;height:460.50px;background:#141414;"></div>
<div style="left:410.40px;top:544.20px;width:2.40px;height:18.60px;background:#141414;"></div>
<div style="left:499.20px;top:59.00px;width:2.00px;height:485.20px;background:#141414;"></div>
<div style="left:499.00px;top:544.20px;width:2.40px;height:18.60px;background:#141414;"></div>
<div style="left:565.40px;top:59.00px;width:2.00px;height:485.20px;background:#141414;"></div>
<div style="left:565.20px;top:544.20px;width:2.40px;height:18.60px;background:#141414;"></div>
<div style="left:632.70px;top:59.00px;width:2.00px;height:485.20px;background:#141414;"></div>
<div style="left:632.50px;top:544.20px;width:2.40px;height:18.60px;background:#141414;"></div>
<div style="left:720.70px;top:59.00px;width:2.00px;height:485.20px;background:#141414;"></div>
<div style="left:720.50px;top:544.20px;width:2.40px;height:18.60px;background:#141414;"></div>
<div style="left:817.30px;top:59.00px;width:2.00px;height:485.20px;background:#141414;"></div>
<div style="left:817.10px;top:544.20px;width:2.40px;height:18.60px;background:#141414;"></div>
<div style="left:176.50px;top:571.00px;width:235.50px;height:19.10px;background:#ffff00;"></div>
<div class="t" style="left:176.50px;top:571.90px;width:155.80px;height:19.10px;"><span style="font-size:12px;font-weight:bold;font-style:normal;color:#1e1e00;transform:scaleX(0.968);">ATTUALMENTE POSITIVI</span></div>
<div class="t" style="left:332.30px;top:571.90px;width:79.70px;height:19.10px;"><span style="font-size:12px;font-weight:bold;font-style:normal;color:#1e1e00;transform:scaleX(1.04);">108.257</span></div>
<div style="left:176.50px;top:590.10px;width:235.50px;height:19.70px;background:#0af30a;"></div>
<div class="t" style="left:176.50px;top:591.00px;width:155.80px;height:19.70px;"><span style="font-size:12px;font-weight:bold;font-style:normal;color:#0c3a0c;transform:scaleX(0.985);">TOTALE GUARITI</span></div>
<div class="t" style="left:332.30px;top:591.00px;width:79.70px;height:19.70px;"><span style="font-size:12px;font-weight:bold;font-style:normal;color:#0c3a0c;transform:scaleX(1.04);">47.055</span></div>
<div style="left:176.50px;top:609.80px;width:235.50px;height:18.70px;background:#fd0303;"></div>
<div class="t" style="left:176.50px;top:610.70px;width:155.80px;height:18.70px;"><span style="font-size:12px;font-weight:bold;font-style:normal;color:#5a0000;transform:scaleX(0.94);">TOTALE DECEDUTI</span></div>
<div class="t" style="left:332.30px;top:610.70px;width:79.70px;height:18.70px;"><span style="font-size:12px;font-weight:bold;font-style:normal;color:#5a0000;transform:scaleX(1.04);">23.660</span></div>
<div style="left:176.50px;top:628.50px;width:235.50px;height:19.10px;background:#ffb700;"></div>
<div class="t" style="left:176.50px;top:629.40px;width:155.80px;height:19.10px;"><span style="font-size:12px;font-weight:bold;font-style:normal;color:#3a2600;transform:scaleX(0.95);">CASI TOTALI</span></div>
<div class="t" style="left:332.30px;top:629.40px;width:79.70px;height:19.10px;"><span style="font-size:12px;font-weight:bold;font-style:normal;color:#3a2600;transform:scaleX(1.04);">178.972</span></div>
<div style="left:176.50px;top:589.30px;width:235.50px;height:1.60px;background:#141414;"></div>
<div style="left:176.50px;top:609.00px;width:235.50px;height:1.60px;background:#141414;"></div>
<div style="left:176.50px;top:627.70px;width:235.50px;height:1.60px;background:#141414;"></div>
<div style="left:175.50px;top:570.00px;width:237.50px;height:2.00px;background:#141414;"></div>
<div style="left:175.50px;top:646.60px;width:237.50px;height:2.00px;background:#141414;"></div>
<div style="left:175.50px;top:571.00px;width:2.00px;height:76.60px;background:#141414;"></div>
<div style="left:331.50px;top:571.00px;width:1.60px;height:76.60px;background:#141414;"></div>
<div style="left:411.00px;top:571.00px;width:2.00px;height:76.60px;background:#141414;"></div>
<div style="left:875.80px;top:594.00px;width:83.20px;height:58.60px;background:#f6cece;border-bottom-left-radius:4px;"></div>
<div style="left:959.00px;top:594.00px;width:49.10px;height:58.60px;background:#4e1a1a;"></div>
<svg style="position:absolute;left:0;top:0" width="1018" height="683" viewBox="0 0 1018 683"><defs><clipPath id="cl"><rect x="0" y="0" width="959" height="683"/></clipPath><clipPath id="cr"><rect x="959" y="0" width="59" height="683"/></clipPath></defs><g clip-path="url(#cl)" fill="#fefefe"><rect x="902" y="637.5" width="14.2" height="14.2" rx="6.5"/><path d="M917,651.6 V612 H929.6 V616.5 C932,613.2 936,611.4 941,611.4 C952.5,611.4 958.2,617.5 958.2,628.5 V651.6 H944.6 V631 C944.6,625.2 942.4,622.6 937.8,622.6 C933.2,622.6 930.8,625.6 930.8,631 V651.6 Z"/><path fill-rule="evenodd" d="M981.2,635.6 H966 C966.4,640 969,642.4 973.5,642.4 C976.5,642.4 978.8,641.6 980.4,640.6 L981.2,650.2 C978.6,651.4 975.4,652 971.5,652 C963.4,652 958.6,646 958.6,632 C958.6,618.5 963.8,611.4 970.2,611.4 C977.6,611.4 981.2,617.5 981.2,629 Z M966,627.6 H974 C974,623.6 972.6,621.2 970,621.2 C967.4,621.2 966,623.6 966,627.6 Z"/><path d="M979.8,607.4 L993.4,602.8 V613 H1000.2 V621.6 H993.4 V637.5 C993.4,640.8 994.6,642 997.2,642 C998.4,642 999.4,641.8 1000.2,641.5 V651.2 C998.4,651.8 995.8,652.2 993,652.2 C984,652.2 979.8,648 979.8,640 V621.6 H976.3 V613 H979.8 Z"/></g><g clip-path="url(#cr)" fill="#5c5c5c"><rect x="902" y="637.5" width="14.2" height="14.2" rx="6.5"/><path d="M917,651.6 V612 H929.6 V616.5 C932,613.2 936,611.4 941,611.4 C952.5,611.4 958.2,617.5 958.2,628.5 V651.6 H944.6 V631 C944.6,625.2 942.4,622.6 937.8,622.6 C933.2,622.6 930.8,625.6 930.8,631 V651.6 Z"/><path fill-rule="evenodd" d="M981.2,635.6 H966 C966.4,640 969,642.4 973.5,642.4 C976.5,642.4 978.8,641.6 980.4,640.6 L981.2,650.2 C978.6,651.4 975.4,652 971.5,652 C963.4,652 958.6,646 958.6,632 C958.6,618.5 963.8,611.4 970.2,611.4 C977.6,611.4 981.2,617.5 981.2,629 Z M966,627.6 H974 C974,623.6 972.6,621.2 970,621.2 C967.4,621.2 966,623.6 966,627.6 Z"/><path d="M979.8,607.4 L993.4,602.8 V613 H1000.2 V621.6 H993.4 V637.5 C993.4,640.8 994.6,642 997.2,642 C998.4,642 999.4,641.8 1000.2,641.5 V651.2 C998.4,651.8 995.8,652.2 993,652.2 C984,652.2 979.8,648 979.8,640 V621.6 H976.3 V613 H979.8 Z"/></g></svg>
<div class="www">www.cittanet.it</div>
</body></html>
